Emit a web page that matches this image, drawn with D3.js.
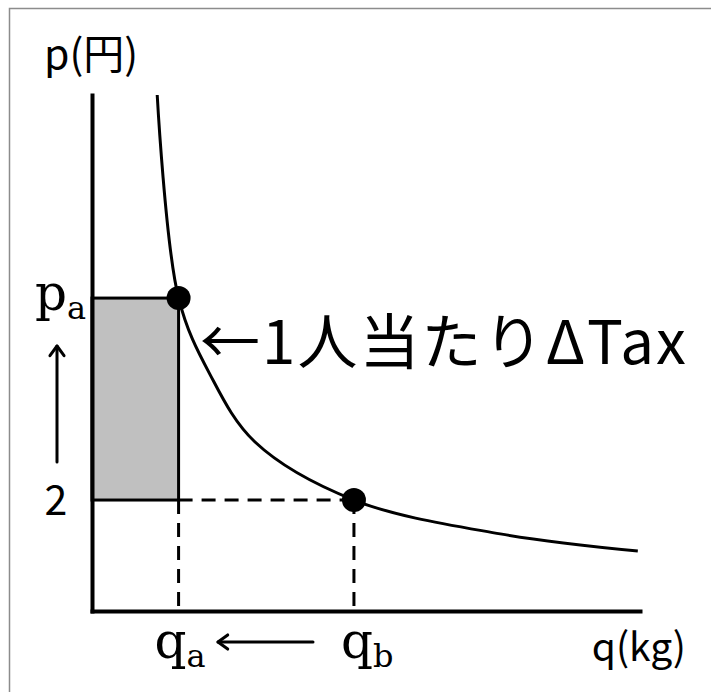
<!DOCTYPE html>
<html>
<head>
<meta charset="utf-8">
<script src="https://cdn.jsdelivr.net/npm/d3@7"></script>
<style>
  html, body { margin: 0; padding: 0; background: #fff; }
  svg { display: block; }
</style>
</head>
<body>
<svg id="chart" width="711" height="692"></svg>
<script>
// Demand curve samples: quantity (kg) and price (円)
const curveQuantity = [1.19, 1.58, 2.15, 2.97, 4.78, 7.45, 9.96];
const curvePrice    = [9.30, 5.64, 4.27, 3.05, 2.00, 1.39, 1.08];

// Marked points on the curve: a (after tax) and b (before)
const pointNames    = ["a", "b"];
const pointQuantity = [1.58, 4.78];
const pointPrice    = [5.64, 2.00];

// Axis labels
const priceAxisTitle    = "p(円)";
const quantityAxisTitle = "q(kg)";
const priceTickLabel    = "2";
const annotation        = "←1人当たりΔTax";

const svg = d3.select("#chart");

// Outer frame
svg.append("rect")
  .attr("x", 9.5).attr("y", 8.5)
  .attr("width", 703).attr("height", 690)
  .attr("fill", "none")
  .attr("stroke", "#8c8c8c")
  .attr("stroke-width", 1.5);

const x = d3.scaleLinear().domain([0, 10]).range([92, 640]);
const y = d3.scaleLinear().domain([0, 9.3]).range([611, 95]);

const [qa, qb] = pointQuantity;
const [pa, pb] = pointPrice;

// Shaded per-person tax area
svg.append("rect")
  .attr("x", x(0)).attr("y", y(pa))
  .attr("width", x(qa) - x(0)).attr("height", y(pb) - y(pa))
  .attr("fill", "#c0c0c0")
  .attr("stroke", "#000")
  .attr("stroke-width", 3);

// Dashed guides from point b
const dash = "14,9";
const guides = [
  [[qa, pb], [qb, pb]],
  [[qa, pb], [qa, 0]],
  [[qb, pb], [qb, 0]]
];
svg.selectAll("line.guide")
  .data(guides)
  .join("line")
  .attr("class", "guide")
  .attr("x1", d => x(d[0][0])).attr("y1", d => y(d[0][1]))
  .attr("x2", d => x(d[1][0])).attr("y2", d => y(d[1][1]))
  .attr("stroke", "#000")
  .attr("stroke-width", 3)
  .attr("stroke-dasharray", dash);

// Axes (domain lines only)
const yAxis = svg.append("g")
  .attr("transform", `translate(${x(0)},0)`)
  .call(d3.axisLeft(y).tickValues([]).tickSizeOuter(0));
const xAxis = svg.append("g")
  .attr("transform", `translate(0,${y(0)})`)
  .call(d3.axisBottom(x).tickValues([]).tickSizeOuter(0));
[yAxis, xAxis].forEach(g => g.select(".domain")
  .attr("stroke", "#000")
  .attr("stroke-width", 4)
  .attr("stroke-linecap", "square"));

// Demand curve
const line = d3.line()
  .x(d => x(d[0]))
  .y(d => y(d[1]))
  .curve(d3.curveCatmullRom.alpha(0.5));
svg.append("path")
  .datum(curveQuantity.map((q, i) => [q, curvePrice[i]]))
  .attr("d", line)
  .attr("fill", "none")
  .attr("stroke", "#000")
  .attr("stroke-width", 3);

// Points a and b
svg.selectAll("circle.pt")
  .data(pointNames)
  .join("circle")
  .attr("class", "pt")
  .attr("cx", (d, i) => x(pointQuantity[i]))
  .attr("cy", (d, i) => y(pointPrice[i]))
  .attr("r", 12)
  .attr("fill", "#000");

const sans = "'Noto Sans CJK JP', 'Noto Sans', sans-serif";
const serif = "'DejaVu Serif', 'Liberation Serif', serif";

// Axis titles
svg.append("text")
  .attr("x", 44).attr("y", 69)
  .attr("font-family", sans).attr("font-size", 41)
  .text(priceAxisTitle);
svg.append("text")
  .attr("x", 686).attr("y", 661)
  .attr("text-anchor", "end")
  .attr("font-family", sans).attr("font-size", 39)
  .text(quantityAxisTitle);

// Price labels
const pLabel = svg.append("text")
  .attr("x", 35).attr("y", y(pa) + 12)
  .attr("font-family", serif).attr("font-size", 50);
pLabel.append("tspan").text("p");
pLabel.append("tspan").attr("font-size", 32).attr("dy", 9).text("a");

svg.append("text")
  .attr("x", 56).attr("y", y(pb) + 15)
  .attr("text-anchor", "middle")
  .attr("font-family", sans).attr("font-size", 41)
  .text(priceTickLabel);

// Quantity labels
[[qa, -24], [qb, -13]].forEach(([q, off], i) => {
  const t = svg.append("text")
    .attr("x", x(q) + off).attr("y", 658)
    .attr("font-family", serif).attr("font-size", 50);
  t.append("tspan").text("q");
  t.append("tspan").attr("font-size", 32).attr("dy", 9).text(pointNames[i]);
});

// Arrows showing the move from b to a
function arrow(x1, y1, x2, y2, head) {
  const ang = Math.atan2(y2 - y1, x2 - x1);
  const g = svg.append("g").attr("stroke", "#000").attr("stroke-width", 3)
    .attr("fill", "none").attr("stroke-linecap", "round").attr("stroke-linejoin", "round");
  g.append("line").attr("x1", x1).attr("y1", y1).attr("x2", x2).attr("y2", y2);
  const a1 = ang + Math.PI * 0.8, a2 = ang - Math.PI * 0.8;
  g.append("path").attr("d",
    `M${x2 + head * Math.cos(a1)},${y2 + head * Math.sin(a1)} L${x2},${y2} L${x2 + head * Math.cos(a2)},${y2 + head * Math.sin(a2)}`);
}
arrow(57, 462, 57, 346, 12);
arrow(313, 642, 218, 642, 12);

// Annotation for point a
svg.append("text")
  .attr("x", 200).attr("y", 364)
  .attr("font-family", sans).attr("font-size", 60)
  .attr("textLength", 486)
  .attr("lengthAdjust", "spacing")
  .text(annotation);
</script>
</body>
</html>
